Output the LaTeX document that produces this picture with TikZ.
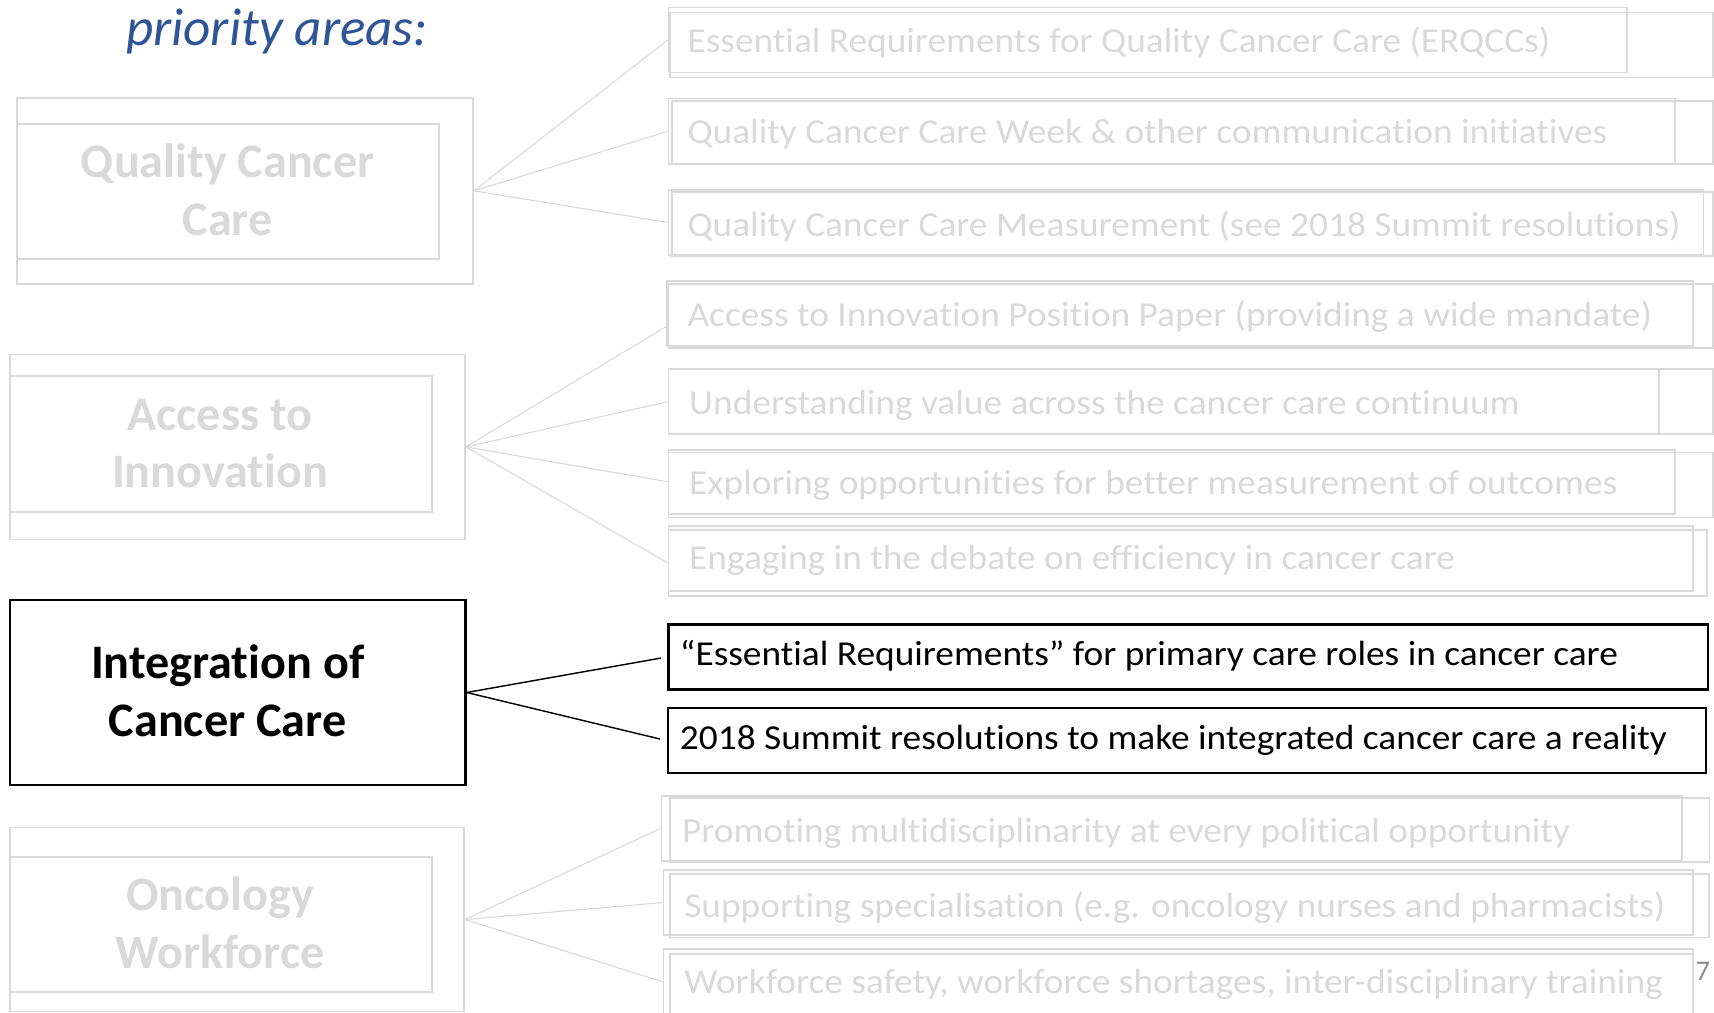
\documentclass[tikz,border=0pt]{standalone}
\usepackage{fontspec}
\setmainfont[Ligatures=NoCommon]{Carlito}
\newfontfamily\widefont[FakeStretch=1.067,Ligatures=NoCommon]{Carlito}
\definecolor{lg}{RGB}{217,217,217}
\definecolor{titleblue}{RGB}{47,85,151}
\definecolor{pagegray}{RGB}{140,140,140}
\tikzset{
  gbox/.style={draw=lg, line width=1.6pt, rectangle, inner sep=0pt, anchor=north west},
  kbox/.style={draw=black, line width=2.4pt, rectangle, inner sep=0pt, anchor=north west},
  gline/.style={draw=lg, line width=1pt},
  kline/.style={draw=black, line width=1.3pt},
  rtext/.style={anchor=base west, inner sep=0pt, font=\widefont\fontsize{32}{38}\selectfont},
  ltext/.style={anchor=base, inner sep=0pt, font=\fontsize{44}{53}\selectfont\bfseries},
}
\begin{document}
\begin{tikzpicture}[x=1pt,y=-1pt]
\useasboundingbox (0,0) rectangle (1566,925.5);
% title
\node[anchor=base west, inner sep=0pt, text=titleblue, font=\fontsize{48.5}{58}\selectfont\itshape] (title) at (115,42) {priority areas:};

% left boxes
\node[gbox, minimum width=416.7pt, minimum height=170pt] (qo) at (14.6,88.6) {};
\node[gbox, minimum width=385.6pt, minimum height=123.3pt] (qi) at (14.6,112.4) {};
\node[ltext, text=lg] (qt1) at (208,162) {Quality Cancer};
\node[ltext, text=lg] (qt2) at (208,215) {Care};

\node[gbox, minimum width=416pt, minimum height=169pt] (ao) at (8,323) {};
\node[gbox, minimum width=386pt, minimum height=124pt] (ai) at (8,343) {};
\node[ltext, text=lg] (at1) at (201,393) {Access to};
\node[ltext, text=lg] (at2) at (201,445) {Innovation};

\node[kbox, minimum width=416pt, minimum height=169pt] (ib) at (8,547) {};
\node[ltext, text=black] (it1) at (208,620) {Integration of};
\node[ltext, text=black] (it2) at (208,673) {Cancer Care};

\node[gbox, minimum width=415.3pt, minimum height=168pt] (oo) at (8,755.3) {};
\node[gbox, minimum width=385.8pt, minimum height=123.5pt] (oi) at (8,782) {};
\node[ltext, text=lg] (ot1) at (201,832) {Oncology};
\node[ltext, text=lg] (ot2) at (201,885) {Workforce};

% right boxes, quality
\node[gbox, minimum width=875.5pt, minimum height=59.4pt] (b1a) at (610,6.1) {};
\node[gbox, minimum width=953pt, minimum height=59.3pt] (b1b) at (611,10.7) {};
\node[rtext, text=lg] (t1) at (628,48) {Essential Requirements for Quality Cancer Care (ERQCCs)};
\node[gbox, minimum width=919.5pt, minimum height=59.9pt] (b2a) at (610,89.3) {};
\node[gbox, minimum width=951pt, minimum height=57.6pt] (b2b) at (613,91.4) {};
\node[rtext, text=lg] (t2) at (628,131.5) {Quality Cancer Care Week \& other communication initiatives};
\node[gbox, minimum width=945.6pt, minimum height=59.3pt] (b3a) at (610,172.7) {};
\node[gbox, minimum width=951pt, minimum height=58.5pt] (b3b) at (613,174.5) {};
\node[rtext, text=lg] (t3) at (628,216.5) {Quality Cancer Care Measurement (see 2018 Summit resolutions)};

% access
\node[gbox, minimum width=937.5pt, minimum height=59.4pt] (b4a) at (608.5,255.8) {};
\node[gbox, minimum width=954pt, minimum height=58.5pt] (b4b) at (610,258.8) {};
\node[rtext, text=lg] (t4) at (628,298) {Access to Innovation Position Paper (providing a wide mandate)};
\node[gbox, minimum width=954pt, minimum height=59.5pt] (b5a) at (610,336.5) {};
\node[gbox, minimum width=904.7pt, minimum height=59.5pt] (b5b) at (610,336.5) {};
\node[rtext, text=lg] (t5) at (629.5,378.5) {Understanding value across the cancer care continuum};
\node[gbox, minimum width=919.5pt, minimum height=58.7pt] (b6a) at (610,410) {};
\node[gbox, minimum width=954pt, minimum height=59.3pt] (b6b) at (610,412.7) {};
\node[rtext, text=lg] (t6) at (629.5,451.5) {Exploring opportunities for better measurement of outcomes};
\node[gbox, minimum width=936pt, minimum height=59.3pt] (b7a) at (610,479.7) {};
\node[gbox, minimum width=948.7pt, minimum height=60.3pt] (b7b) at (610,483.3) {};
\node[rtext, text=lg] (t7) at (629.5,520) {Engaging in the debate on efficiency in cancer care};

% integration
\node[kbox, line width=2pt, minimum width=949.6pt, minimum height=59.4pt] (b8) at (609.7,569.5) {};
\node[rtext, text=black] (t8) at (621,608) {“Essential Requirements” for primary care roles in cancer care};
\node[kbox, line width=2pt, minimum width=948.8pt, minimum height=59.9pt] (b9) at (609,645.7) {};
\node[rtext, text=black] (t9) at (621,685) {2018 Summit resolutions to make integrated cancer care a reality};

% workforce
\node[gbox, minimum width=932.5pt, minimum height=59.4pt] (b10a) at (603.5,726.4) {};
\node[gbox, minimum width=950pt, minimum height=59pt] (b10b) at (611,728) {};
\node[rtext, text=lg] (t10) at (623,770) {Promoting multidisciplinarity at every political opportunity};
\node[gbox, minimum width=940.6pt, minimum height=59.1pt] (b11a) at (605.4,794.3) {};
\node[gbox, minimum width=949.6pt, minimum height=57.8pt] (b11b) at (611,798) {};
\node[rtext, text=lg] (t11) at (625,838.5) {Supporting specialisation (e.g. oncology nurses and pharmacists)};
\node[gbox, minimum width=940.6pt, minimum height=70pt] (b12a) at (605.4,866.4) {};
\node[gbox, minimum width=935pt, minimum height=70pt] (b12b) at (611,871) {};
\node[rtext, text=lg] (t12) at (625,907.6) {Workforce safety, workforce shortages, inter-disciplinary training};

\node[anchor=base west, inner sep=0pt, text=pagegray, font=\fontsize{26}{30}\selectfont] (pg) at (1549,896) {7};

% connectors
\coordinate (e4) at (608.5,298.5);
\coordinate (e12) at (605.4,897);
\draw[gline] (qo.east) -- (b1a.west);
\draw[gline] (qo.east) -- (b2a.west);
\draw[gline] (qo.east) -- (b3a.west);
\draw[gline] (ao.east) -- (e4);
\draw[gline] (ao.east) -- (b5a.west);
\draw[gline] (ao.east) -- (b6a.west);
\draw[gline] (ao.east) -- (b7b.west);
\draw[kline, shorten >=6pt] (ib.east) -- (b8.west);
\draw[kline, shorten >=6pt] (ib.east) -- (b9.west);
\draw[gline] (oo.east) -- (b10a.west);
\draw[gline] (oo.east) -- (b11a.west);
\draw[gline] (oo.east) -- (e12);
\end{tikzpicture}
\end{document}
